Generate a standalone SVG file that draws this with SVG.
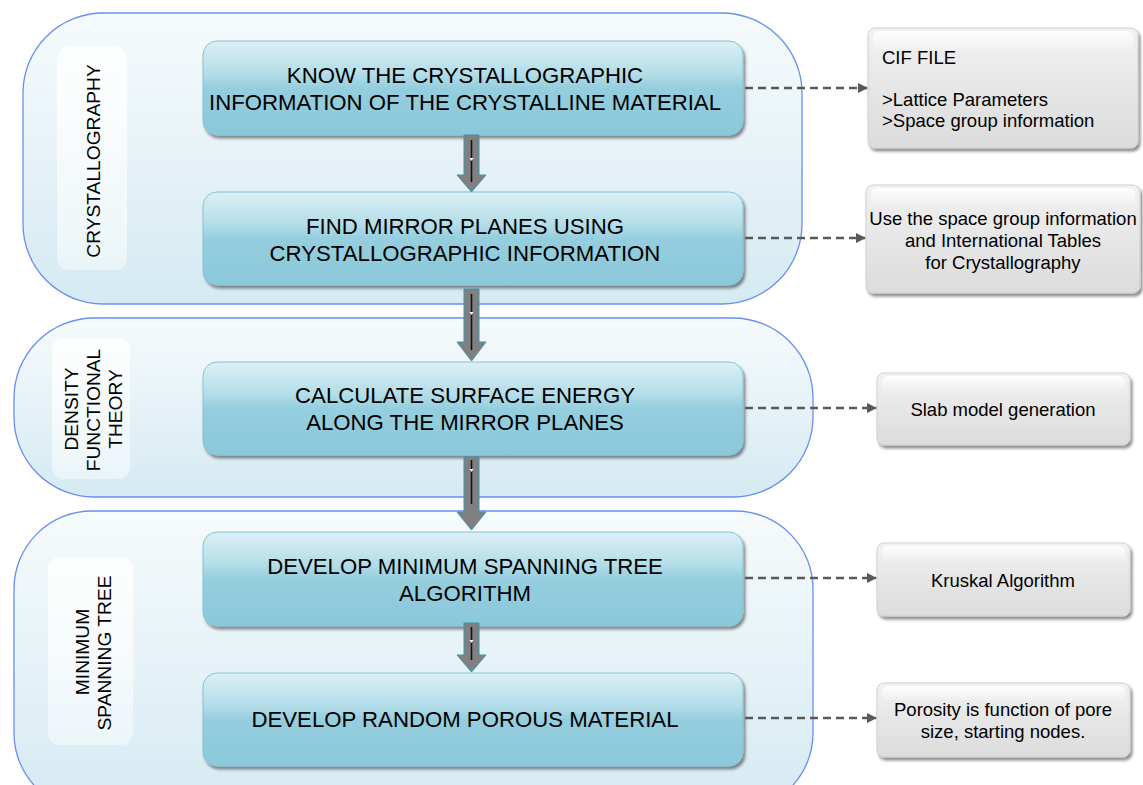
<svg xmlns="http://www.w3.org/2000/svg" width="1143" height="785" viewBox="0 0 1143 785">
  <defs>
    <linearGradient id="gContainer" x1="0" y1="0" x2="0" y2="1">
      <stop offset="0" stop-color="#f6fbfc"/>
      <stop offset="0.5" stop-color="#e6f2f7"/>
      <stop offset="1" stop-color="#d5eaf2"/>
    </linearGradient>
    <linearGradient id="gPanel" x1="0" y1="0" x2="0" y2="1">
      <stop offset="0" stop-color="#ffffff" stop-opacity="0.85"/>
      <stop offset="1" stop-color="#ffffff" stop-opacity="0.45"/>
    </linearGradient>
    <linearGradient id="gStep" x1="0" y1="0" x2="0" y2="1">
      <stop offset="0" stop-color="#dcf0f5"/>
      <stop offset="0.35" stop-color="#b3dde8"/>
      <stop offset="0.5" stop-color="#95cede"/>
      <stop offset="1" stop-color="#8ac8da"/>
    </linearGradient>
    <linearGradient id="gNote" x1="0" y1="0" x2="0" y2="1">
      <stop offset="0" stop-color="#f2f2f2"/>
      <stop offset="0.5" stop-color="#e6e6e6"/>
      <stop offset="1" stop-color="#dcdcdc"/>
    </linearGradient>
    <linearGradient id="gGloss" x1="0" y1="0" x2="0" y2="1">
      <stop offset="0" stop-color="#ffffff" stop-opacity="0.9"/>
      <stop offset="1" stop-color="#ffffff" stop-opacity="0"/>
    </linearGradient>
    <filter id="shadow" x="-5%" y="-10%" width="112%" height="130%">
      <feGaussianBlur in="SourceAlpha" stdDeviation="1.6"/>
      <feOffset dx="2" dy="3" result="b"/>
      <feComponentTransfer><feFuncA type="linear" slope="0.45"/></feComponentTransfer>
      <feMerge><feMergeNode/><feMergeNode in="SourceGraphic"/></feMerge>
    </filter>
    <marker id="dashHead" viewBox="0 0 10 10" refX="9" refY="5" markerWidth="4" markerHeight="4" orient="auto" markerUnits="strokeWidth">
      <path d="M0,0 L10,5 L0,10 z" fill="#595959"/>
    </marker>
    <style>
      .container { fill: url(#gContainer); stroke: #6a8ef0; stroke-width: 1.3; }
      .panel { fill: url(#gPanel); }
      .step { fill: url(#gStep); stroke: #86c2d3; stroke-width: 1; filter: url(#shadow); }
      .note { fill: url(#gNote); stroke: #cfcfcf; stroke-width: 1; filter: url(#shadow); }
      .gloss { fill: url(#gGloss); }
      .t { font-family: "Liberation Sans", Arial, sans-serif; fill: #000; }
      .stepText { font-size: 22.2px; text-anchor: middle; }
      .side { font-size: 19.2px; text-anchor: middle; }
      .noteText { font-size: 18.5px; }
      .mid { text-anchor: middle; }
      .flow { fill: #808080; stroke: #3e93a6; stroke-width: 1; }
      .flowCore { stroke: #111; stroke-width: 1.6; }
      .dash { fill: none; stroke: #595959; stroke-width: 2.6; stroke-dasharray: 8 5; marker-end: url(#dashHead); }
    </style>
  </defs>

  <!-- stage containers -->
  <g id="stage-crystallography">
    <rect class="container" x="23" y="13" width="779" height="291" rx="80" ry="80"/>
    <rect class="panel" x="57" y="47" width="70" height="223" rx="12"/>
    <text class="t side" transform="translate(100,161) rotate(-90)">CRYSTALLOGRAPHY</text>
  </g>
  <g id="stage-dft">
    <rect class="container" x="14" y="318" width="799" height="179" rx="80" ry="80"/>
    <rect class="panel" x="52" y="338" width="78" height="141" rx="12"/>
    <text class="t side" transform="translate(78,409) rotate(-90)">DENSITY</text>
    <text class="t side" transform="translate(100,410) rotate(-90)">FUNCTIONAL</text>
    <text class="t side" transform="translate(122,409) rotate(-90)">THEORY</text>
  </g>
  <g id="stage-mst">
    <rect class="container" x="14" y="511" width="799" height="300" rx="78" ry="78"/>
    <rect class="panel" x="48" y="557" width="85" height="188" rx="12"/>
    <text class="t side" transform="translate(89,652) rotate(-90)">MINIMUM</text>
    <text class="t side" transform="translate(111,653) rotate(-90)">SPANNING TREE</text>
  </g>

  <!-- process steps -->
  <g id="step-know">
    <rect class="step" x="203" y="41" width="540" height="94" rx="14"/>
    <text class="t stepText" x="465" y="83">KNOW THE CRYSTALLOGRAPHIC</text>
    <text class="t stepText" x="465" y="110">INFORMATION OF THE CRYSTALLINE MATERIAL</text>
  </g>
  <g id="step-mirror">
    <rect class="step" x="203" y="192" width="540" height="93" rx="14"/>
    <text class="t stepText" x="465" y="234">FIND MIRROR PLANES USING</text>
    <text class="t stepText" x="465" y="261">CRYSTALLOGRAPHIC INFORMATION</text>
  </g>
  <g id="step-surface">
    <rect class="step" x="203" y="362" width="540" height="93" rx="14"/>
    <text class="t stepText" x="465" y="403">CALCULATE SURFACE ENERGY</text>
    <text class="t stepText" x="465" y="430">ALONG THE MIRROR PLANES</text>
  </g>
  <g id="step-mst">
    <rect class="step" x="203" y="532" width="540" height="94" rx="14"/>
    <text class="t stepText" x="465" y="574">DEVELOP MINIMUM SPANNING TREE</text>
    <text class="t stepText" x="465" y="601">ALGORITHM</text>
  </g>
  <g id="step-porous">
    <rect class="step" x="203" y="673" width="540" height="93" rx="14"/>
    <text class="t stepText" x="465" y="727">DEVELOP RANDOM POROUS MATERIAL</text>
  </g>

  <!-- notes -->
  <g id="note-cif">
    <rect class="note" x="868" y="28" width="270" height="120" rx="7"/>
    <rect class="gloss" x="873" y="31" width="260" height="22" rx="6"/>
    <text class="t noteText" x="882" y="64">CIF FILE</text>
    <text class="t noteText" x="882" y="106">&gt;Lattice Parameters</text>
    <text class="t noteText" x="882" y="127">&gt;Space group information</text>
  </g>
  <g id="note-tables">
    <rect class="note" x="866" y="185" width="274" height="108" rx="7"/>
    <rect class="gloss" x="871" y="188" width="264" height="20" rx="6"/>
    <text class="t noteText mid" x="1003" y="225">Use the space group information</text>
    <text class="t noteText mid" x="1003" y="247">and International Tables</text>
    <text class="t noteText mid" x="1003" y="269">for Crystallography</text>
  </g>
  <g id="note-slab">
    <rect class="note" x="877" y="373" width="253" height="72" rx="7"/>
    <rect class="gloss" x="882" y="376" width="243" height="16" rx="6"/>
    <text class="t noteText mid" x="1003" y="416">Slab model generation</text>
  </g>
  <g id="note-kruskal">
    <rect class="note" x="877" y="543" width="253" height="73" rx="7"/>
    <rect class="gloss" x="882" y="546" width="243" height="16" rx="6"/>
    <text class="t noteText mid" x="1003" y="587">Kruskal Algorithm</text>
  </g>
  <g id="note-porosity">
    <rect class="note" x="877" y="683" width="253" height="74" rx="7"/>
    <rect class="gloss" x="882" y="686" width="243" height="16" rx="6"/>
    <text class="t noteText mid" x="1003" y="716">Porosity is function of pore</text>
    <text class="t noteText mid" x="1003" y="738">size, starting nodes.</text>
  </g>

  <!-- connectors -->
  <g id="connectors">
    <path class="flow" d="M464,135 H479 V175 H486 L471.5,192 L457,175 H464 Z"/>
    <line class="flowCore" x1="471.5" y1="140" x2="471.5" y2="182"/>
    <path class="flow" d="M464,289 H479 V342 H486 L471.5,361 L457,342 H464 Z"/>
    <line class="flowCore" x1="471.5" y1="294" x2="471.5" y2="350"/>
    <path class="flow" d="M464,457 H479 V512 H486 L471.5,530 L457,512 H464 Z"/>
    <line class="flowCore" x1="471.5" y1="460" x2="471.5" y2="504"/>
    <path class="flow" d="M464,623 H479 V655 H486 L471.5,672 L457,655 H464 Z"/>
    <line class="flowCore" x1="471.5" y1="627" x2="471.5" y2="660"/>
    <path fill="#fff" d="M469.5,158 H473.5 L471.5,161 Z"/>
    <path fill="#fff" d="M469.5,312 H473.5 L471.5,315 Z"/>
    <path fill="#fff" d="M469.5,469 H473.5 L471.5,472 Z"/>
    <path fill="#fff" d="M469.5,640 H473.5 L471.5,643 Z"/>

    <path class="dash" d="M745,88 H867"/>
    <path class="dash" d="M745,238 H865"/>
    <path class="dash" d="M745,408 H876"/>
    <path class="dash" d="M745,578 H876"/>
    <path class="dash" d="M745,718 H876"/>
  </g>
</svg>
